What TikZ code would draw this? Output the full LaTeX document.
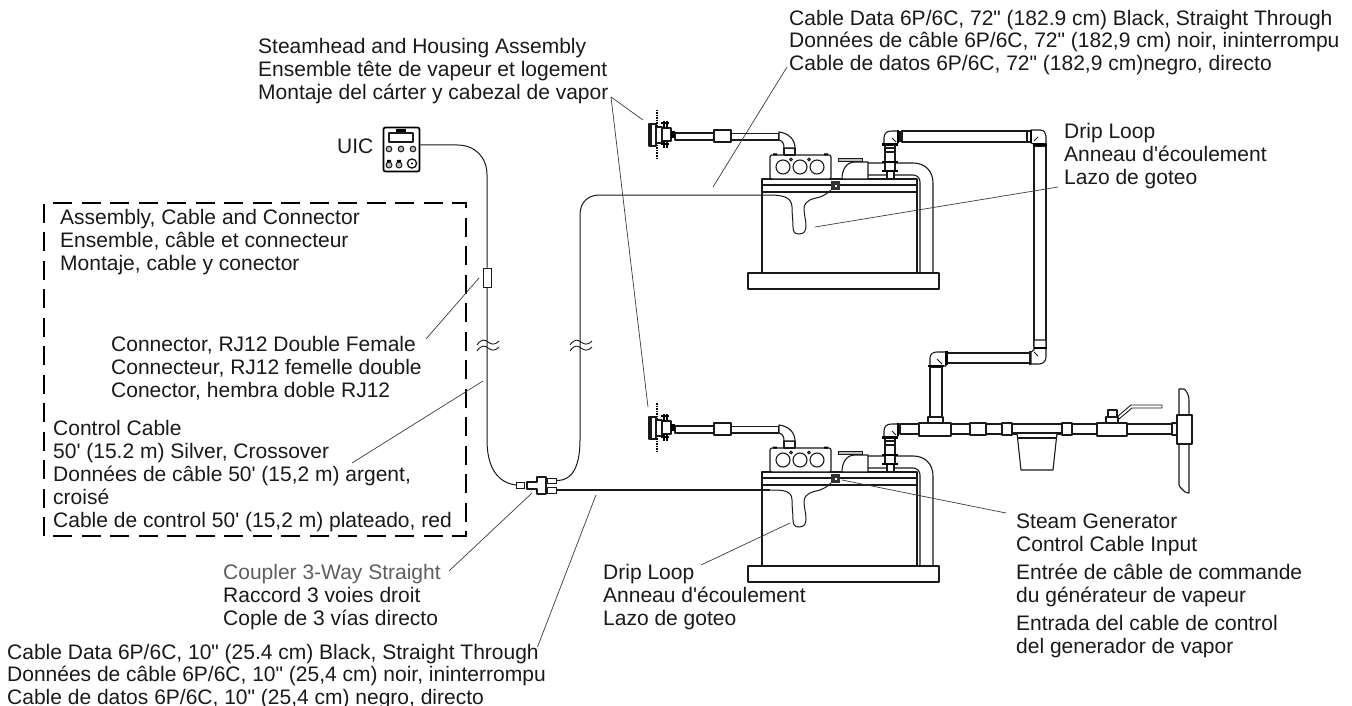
\documentclass[tikz,border=0pt]{standalone}
\usepackage{fontspec}
\newfontfamily\labfont{Liberation Sans}
\definecolor{ink}{HTML}{1A1A1A}
\newcommand{\fs}{\rule{0pt}{16pt}}
\tikzset{
  lbl/.style={anchor=north west,inner sep=0pt,align=left,text=ink,font=\labfont\fontsize{21}{23}\selectfont},
  part/.style={draw=ink,line width=1.1pt,line join=round},
  pipe/.style={draw=ink,fill=white,line width=1.1pt,line join=round},
  cablew/.style={draw=ink,line width=1pt},
  leader/.style={draw=ink!85,line width=.7pt},
  heavy/.style={draw=black,line width=2.6pt},
  steamhead/.pic={
    \draw[draw=black,line width=2.4pt,dash pattern=on 1.5pt off 1pt] (657,110)--(657,160);
    \draw[pipe] (675,133) rectangle (714,140);
    \draw[pipe] (731,133.5) rectangle (779,140);
    \draw[pipe] (714,130) rectangle (731,142);
    \draw[pipe] (649,124) rectangle (656,146);
    \draw[part] (651,124)--(651,146);
    \draw[pipe] (656,127) rectangle (662,143);
    \draw[pipe] (662,128) rectangle (671,141);
    \fill[black] (671,131) rectangle (675,138);
    \draw[black,line width=2pt] (661,123)--(669,123) (661,144)--(669,144);
    \draw[black,line width=1.6pt] (664,121)--(664,128) (667,121)--(667,128) (664,141)--(664,148) (667,141)--(667,148);
    \draw[pipe] (784,148) rectangle (795,155);
    \draw[pipe] (779,132) .. controls (788,133) and (795,139) .. (795,148) -- (784,148) .. controls (784,144) and (783,141) .. (779,140) -- cycle;
  },
  genunit/.pic={
    % tank
    \draw[part] (762,273)--(762,179)--(917,179)--(917,273);
    \draw[part] (762,185)--(917,185) (762,192)--(917,192);
    \draw[pipe] (748,273) rectangle (939,289);
    % control box
    \draw[pipe,rounded corners=2pt] (770,155) rectangle (831,179);
    \foreach \cx in {783,800,817} \draw[part] (\cx,167) circle (7);
    \foreach \cx in {791,809} \draw[part] (\cx,159.5) circle (1.4);
    \fill[black] (773,153.5) rectangle (777,155.5) (824,153.5) rectangle (828,155.5);
    % motor housing
    \draw[pipe] (842,179) .. controls (842,170) and (846,162) .. (855,162) -- (868,162) -- (868,179) -- cycle;
    \draw[draw=ink,fill=black!25,line width=.8pt] (838,158) rectangle (862,161);
    % return pipe
    \draw[part] (868,163)--(913,163) .. controls (925,163) and (933,171) .. (933,183) -- (933,273);
    \draw[part] (868,175)--(913,175) .. controls (917,175) and (920,178) .. (920,182) -- (920,273);
    % steam riser
    \draw[pipe] (887,171) rectangle (894,179);
    \draw[pipe] (885,144) rectangle (895,171);
    \draw[part] (885,148)--(895,148) (885,152)--(895,152);
    \draw[pipe] (884,144)--(884,138) .. controls (884,133) and (887,131) .. (892,131) -- (898,131) -- (898,143) -- (896,144) -- cycle;
    \draw[part,line width=.8pt] (892,138)--(896,142);
    \draw[heavy] (898,130)--(898,143);
    \draw[heavy] (882,144.5)--(898,144.5);
    \draw[heavy] (882,162)--(898,162);
    \draw[draw=black,line width=2.2pt] (882,171)--(898,171);
    % connector + drip
    \fill[black!80] (831,181) rectangle (840,190);
    \fill[white] (834.5,184.5) rectangle (836.5,186.5);
  }
}
\begin{document}
\begin{tikzpicture}[x=1pt,y=-1pt]
\useasboundingbox (0,0) rectangle (1352,706);
\fill[white] (0,0) rectangle (1352,706);

% units
\pic at (0,0) {genunit};
\pic at (0,293) {genunit};
\pic at (0,0) {steamhead};
\pic at (0,293) {steamhead};

% drip-loop cables
\draw[cablew] (770,195) .. controls (782,195) and (792,197) .. (792,207) .. controls (792,215) and (793,220) .. (793,227) .. controls (793,232) and (795,234) .. (799,234) .. controls (804,234) and (806,231) .. (806,226) .. controls (806,220) and (804,215) .. (804,208) .. controls (805,200) and (812,199) .. (820,197) .. controls (825,195) and (828,193) .. (831,190);
\draw[cablew] (770,490) .. controls (782,490) and (792,490) .. (792,500) .. controls (792,508) and (793,513) .. (793,520) .. controls (793,525) and (795,527) .. (799,527) .. controls (804,527) and (806,524) .. (806,519) .. controls (806,513) and (804,508) .. (804,501) .. controls (805,493) and (812,492) .. (820,490) .. controls (825,488) and (828,486) .. (831,483);

% upper rail pipe
\draw[pipe] (902,131) rectangle (1031,142);
\draw[part] (900,131)--(900,142) (1027,131)--(1027,142);
\draw[pipe] (1034,146) rectangle (1046,346);
\draw[pipe] (1031,130) -- (1040,130) .. controls (1044,130) and (1046,133) .. (1046,136) -- (1046,144) -- (1034,144) -- (1031,143) -- cycle;
\draw[heavy] (1031,130)--(1031,143);
\draw[heavy] (1033,144.5)--(1047,144.5);
\draw[part,line width=.8pt] (1034,141)--(1038,137);
% lower elbow pair
\draw[pipe] (947,353) rectangle (1030,363);
\draw[pipe] (1034,340)--(1046,340)--(1046,357) .. controls (1046,361) and (1043,364) .. (1039,364) -- (1031,364) -- (1031,352) -- (1034,350) -- cycle;
\draw[heavy] (1034,348)--(1047,348);
\draw[draw=ink,line width=1.8pt] (1030,351)--(1030,365);
\draw[part,line width=.8pt] (1034,352)--(1038,356);
\draw[pipe] (930,367) rectangle (942,417);
\draw[pipe] (930,366)--(930,358) .. controls (930,354) and (933,352) .. (937,352) -- (946,352) -- (946,366) -- cycle;
\draw[draw=black,line width=3pt] (946,350.5)--(946,364.5);
\draw[heavy] (928,366)--(944,366);
\draw[part,line width=.8pt] (937,359)--(942,364);
\draw[pipe] (928,417) rectangle (943,423);

% main steam line
\draw[pipe] (900,424) rectangle (1172,434);
\draw[pipe] (919,423) rectangle (951,436);
\draw[pipe] (970,423) rectangle (986,435);
\draw[pipe] (1002,423) rectangle (1012,435);
\draw[pipe] (1017,433)--(1021,470)--(1053,470)--(1057,433)--cycle;
\draw[part] (1018,438)--(1056,438);
\draw[pipe] (1012,424) rectangle (1062,433);
\draw[pipe] (1062,423) rectangle (1072,435);
\draw[pipe] (1108,410) rectangle (1117,417);
\draw[pipe] (1106,417) rectangle (1118,423);
\draw[pipe] (1097,423) rectangle (1127,436);
\draw[pipe,line width=.9pt] (1118,416)--(1131,405)--(1162,405)--(1162,408)--(1132,408)--(1119,419)--cycle;
\draw[pipe] (1172,423) rectangle (1177,435);
\draw[pipe] (1179,415)--(1179,389) -- (1184,389) .. controls (1187,391) and (1189,396) .. (1189,400) -- (1189,415);
\draw[pipe] (1179,444)--(1179,485)--(1180,487)--(1184,491)--(1185,492)--(1188,493)--(1189,493)--(1189,444);
\draw[pipe] (1177,415) rectangle (1192,444);

% UIC
\node[draw=black,fill=white,line width=1.7pt,rounded corners=2pt,minimum width=36pt,minimum height=44pt,inner sep=0pt] (uic) at (401.5,149.5) {};
\draw[part] (389,133) rectangle (413,142);
\fill[black] (396,129) rectangle (406,132);
\foreach \bx in {389,401,413} \draw[part,fill=black!25,line width=1pt] (\bx,149) circle (2.8);
\draw[part,fill=black!25,line width=1pt] (389,165) circle (3);
\draw[part,fill=black!25,line width=1pt] (399,165) circle (3);
\fill[black] (387,160) rectangle (391,162) (397,160) rectangle (401,162);
\draw[part,line width=1.4pt] (412,163.5) circle (4.6);
\fill[black] (412,163.5) circle (1.2);

% couplers
\node[draw=ink,fill=white,line width=1pt,minimum width=8pt,minimum height=19pt,inner sep=0pt] (inline) at (487,277.5) {};
\node[draw=ink,fill=white,line width=1pt,minimum width=7.5pt,minimum height=6pt,inner sep=0pt] (jack) at (520.5,485) {};
\node[draw=ink,fill=white,line width=1pt,minimum width=9pt,minimum height=5pt,inner sep=0pt] (outa) at (551.5,480.5) {};
\node[draw=ink,fill=white,line width=1pt,minimum width=9pt,minimum height=6pt,inner sep=0pt] (outb) at (551.5,490) {};
\draw[part,fill=white] (527,482)--(537,482)--(537,477)--(546,477)--(546,494)--(537,494)--(537,489)--(527,489)--cycle;

% cables
\draw[cablew] (uic.east |- 0,145) -- (457,145) .. controls (475,145) and (487,157) .. (487,175) -- (inline.north);
\draw[cablew] (inline.south) -- (487,440) .. controls (487,468) and (498,483) .. (jack.west);
\draw[cablew] (outa.east) .. controls (570,481) and (580,470) .. (580,440) -- (580,215) .. controls (580,202) and (588,195) .. (600,195) -- (770,195);
\draw[cablew,line width=1.1pt] (outb.east) -- (770,490);

% break marks
\draw[part,line width=.9pt] (477,345) .. controls (482,338) and (485,340) .. (488,342) .. controls (491,344) and (494,346) .. (499,341);
\draw[part,line width=.9pt] (477,351) .. controls (482,344) and (485,346) .. (488,348) .. controls (491,350) and (494,352) .. (499,347);
\draw[part,line width=.9pt] (570,345) .. controls (575,338) and (578,340) .. (581,342) .. controls (584,344) and (587,346) .. (592,341);
\draw[part,line width=.9pt] (570,351) .. controls (575,344) and (578,346) .. (581,348) .. controls (584,350) and (587,352) .. (592,347);

% dashed box
\draw[draw=black,line width=2.5pt,dash pattern=on 19pt off 9.5pt] (44,536)--(44,203)--(466,203)--(466,536)--cycle;

% labels
\node[lbl] (tcable) at (789,9) {\fs Cable Data 6P/6C, 72" (182.9 cm) Black, Straight Through\\[-.4pt]Données de câble 6P/6C, 72" (182,9 cm) noir, ininterrompu\\[-.4pt]Cable de datos 6P/6C, 72" (182,9 cm)negro, directo};
\node[lbl] (shead) at (258,37) {\fs Steamhead and Housing Assembly\\Ensemble tête de vapeur et logement\\Montaje del cárter y cabezal de vapor};
\node[lbl] (uiclbl) at (337,137) {\fs UIC};
\node[lbl] (asm) at (60,208) {\fs Assembly, Cable and Connector\\Ensemble, câble et connecteur\\Montaje, cable y conector};
\node[lbl] (rj) at (111,335) {\fs Connector, RJ12 Double Female\\Connecteur, RJ12 femelle double\\Conector, hembra doble RJ12};
\node[lbl] (ctrl) at (53,419) {\fs Control Cable\\50' (15.2 m) Silver, Crossover\\Données de câble 50' (15,2 m) argent,\\croisé\\Cable de control 50' (15,2 m) plateado, red};
\node[lbl] (drip1) at (1064,122) {\fs Drip Loop\\Anneau d'écoulement\\Lazo de goteo};
\node[lbl] (drip2) at (603,563) {\fs Drip Loop\\Anneau d'écoulement\\Lazo de goteo};
\node[lbl] (coup) at (223,563) {\fs\textcolor{ink!70}{Coupler 3-Way Straight}\\Raccord 3 voies droit\\Cople de 3 vías directo};
\node[lbl] (bcable) at (7,643) {\fs Cable Data 6P/6C, 10" (25.4 cm) Black, Straight Through\\[-.6pt]Données de câble 6P/6C, 10" (25,4 cm) noir, ininterrompu\\[-.6pt]Cable de datos 6P/6C, 10" (25,4 cm) negro, directo};
\node[lbl] (sgen) at (1016,512) {\fs Steam Generator\\Control Cable Input\\[5pt]Entrée de câble de commande\\du générateur de vapeur\\[5pt]Entrada del cable de control\\del generador de vapor};

% leaders
\coordinate (s0) at (611,97);
\coordinate (s1) at (643,120);
\coordinate (s2) at (648,407);
\draw[leader] (s0)--(s1);
\draw[leader] (s0)--(s2);
\draw[leader] (787,67)--(713,187);
\draw[leader] (1058,187)--(815,227);
\draw[leader] (790,523)--(701,565);
\draw[leader] (842,480)--(1006,513);
\draw[leader] (479,278)--(426,339);
\draw[leader] (483,381)--(352,463);
\draw[leader] (532,493)--(449,571);
\draw[leader] (596,495)--(537.5,647);
\end{tikzpicture}
\end{document}
